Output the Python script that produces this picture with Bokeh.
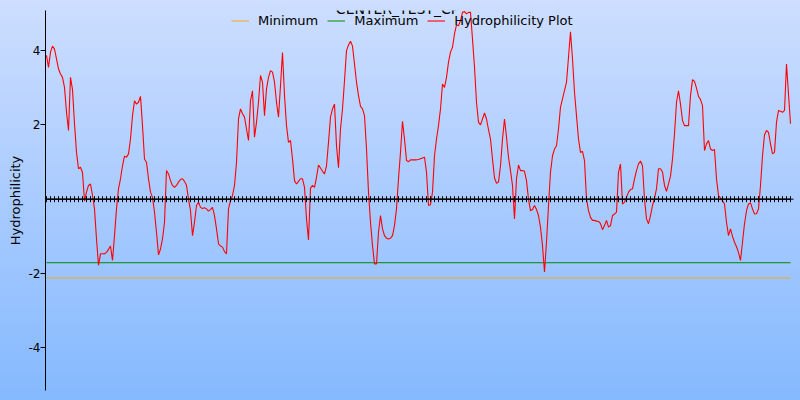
from bokeh.plotting import figure
from bokeh.models import Range1d, FixedTicker, Legend, LegendItem, Label
from bokeh.embed import file_html
from bokeh.resources import INLINE

title_text = "CENTER_TEST_CP"
y_label = "Hydrophilicity"
y_ticks = [-4, -2, 2, 4]
minimum_level = -2.12
maximum_level = -1.71
baseline_level = 0.0
series_labels = ["Minimum", "Maximum", "Hydrophilicity Plot"]
series_colors = ["#f5a623", "#008a00", "#ff0000"]

hydro = [
    3.87, 3.55, 3.96, 4.12, 4.04, 3.78, 3.51, 3.37, 3.28, 3.01,
    2.34, 1.85, 3.28, 2.95, 2.03, 1.26, 0.82, 0.86, 0.72, -0.05,
    0.19, 0.37, 0.41, 0.1, -0.26, -1.07, -1.78, -1.47, -1.47, -1.47,
    -1.43, -1.35, -1.26, -1.65, -0.98, -0.26, 0.28, 0.55, 0.9, 1.16,
    1.13, 1.22, 1.62, 2.25, 2.65, 2.56, 2.61, 2.77, 1.98, 1.08,
    0.99, 0.55, 0.19,
    0.05, -0.35, -0.89, -1.5, -1.34, -1.07, -0.62, 0.77, 0.68, 0.5,
    0.37, 0.32, 0.37, 0.46, 0.53, 0.55, 0.48, 0.37, 0.0, -0.31,
    -0.98, -0.62, -0.17, -0.08, -0.22, -0.25, -0.23, -0.26, -0.32, -0.28,
    -0.22, -0.44, -0.8, -1.2, -1.26, -1.29, -1.41, -1.47, -0.26, -0.04,
    0.1, 0.37, 0.99, 2.16, 2.43, 2.3, 2.21, 1.89, 1.58, 2.65,
    2.92, 1.67, 2.07,
    2.61, 3.33, 3.15, 2.25, 2.97, 3.28, 3.46, 3.42, 3.15, 2.61,
    2.21, 3.06, 3.95, 2.79, 1.98, 1.53, 1.58, 1.08, 0.5, 0.41,
    0.48, 0.55, 0.55, 0.32, -0.53, -1.1, 0.3, 0.37, 0.32, 0.59,
    0.92, 0.84, 0.75, 0.68, 0.9, 1.53, 2.21, 2.43, 2.56, 1.44,
    0.85, 1.89, 2.43, 3.19, 4.0, 4.15, 4.25, 4.12, 3.64, 3.15,
    2.79, 2.5, 2.43,
    2.25, 1.35, 0.19, -0.62, -1.25, -1.74, -1.74, -0.89, -0.44, -0.8,
    -0.98, -1.05, -1.07, -1.05, -0.98, -0.71, -0.26, 0.55, 1.26, 2.1,
    1.62, 1.04, 1.01, 1.06, 1.06, 1.06, 1.06, 1.07, 1.09, 1.11,
    1.13, 0.73, -0.17, -0.15, 0.19, 1.17, 1.62, 1.98, 2.43, 3.1,
    3.01, 3.28, 3.69, 3.96, 4.09, 4.45, 4.69, 4.67, 4.81, 5.03,
    5.05, 4.99, 5.03,
    5.03, 4.31, 3.55, 2.61, 2.07, 2.0, 2.16, 2.32, 2.16, 1.87,
    1.62, 1.08, 0.57, 0.43, 0.46, 0.9, 1.62, 2.16, 1.67, 1.13,
    0.77, 0.37, -0.53, 0.55, 0.92, 0.77, 0.77, 0.75, 0.5, 0.0,
    -0.31, -0.28, -0.17, -0.28, -0.44, -0.76, -1.25, -1.96, -1.16, -0.17,
    0.73, 1.17, 1.35, 1.44, 1.89, 2.48, 2.7, 2.92, 3.15, 3.82,
    4.51, 3.78, 2.88,
    2.25, 1.62, 1.26, 1.29, 1.04, 0.0, -0.31, -0.49, -0.57, -0.57,
    -0.59, -0.6, -0.66, -0.82, -0.71, -0.57, -0.75, -0.71, -0.44, -0.4,
    -0.35, 0.73, 0.95, -0.13, -0.08, 0.05, 0.19, 0.26, 0.28, 0.55,
    0.77, 0.95, 1.03, 0.9, 0.0, -0.53, -0.66, -0.44, -0.17, 0.03,
    0.28, 0.82, 0.82, 0.73, 0.37, 0.21, 0.41, 0.62, 1.08, 1.76,
    2.61, 2.92, 2.56,
    2.12, 1.98, 1.98, 1.98, 2.79, 3.22, 3.17, 2.99, 2.77, 2.68,
    2.52, 1.31, 1.49, 1.58, 1.35, 1.31, 1.34, 0.55, 0.1, 0.03,
    -0.04, -0.13, -0.62, -0.98, -0.8, -1.0, -1.16, -1.28, -1.43, -1.65,
    -1.16, -0.66, -0.31, -0.13, -0.1, -0.26, -0.4, -0.39, -0.26, 0.37,
    1.17, 1.73, 1.85, 1.8, 1.49, 1.22, 1.26, 2.07, 2.39, 2.37,
    2.34, 2.39, 3.64, 2.83, 2.03,
]
residues = list(range(1, len(hydro) + 1))
marked_residues = residues[::2]

FONT = "DejaVu Sans"

p = figure(width=800, height=400, output_backend="svg", toolbar_location=None,
           tools="", x_range=Range1d(0.5, 378), y_range=Range1d(-5.15, 5.08),
           x_axis_location=None)
p.min_border = 0
p.min_border_left = 45
p.min_border_right = 0
p.min_border_top = 10
p.min_border_bottom = 10
p.background_fill_alpha = 0
p.border_fill_alpha = 0
p.outline_line_color = None
p.grid.grid_line_color = None
p.styles = {"background": "linear-gradient(to bottom, #cddeff 0%, #a9cbff 50%, #84b9fe 100%)"}

ax = p.yaxis[0]
ax.ticker = FixedTicker(ticks=y_ticks)
ax.major_label_overrides = {t: str(t) for t in y_ticks}
ax.minor_tick_line_color = None
ax.major_tick_in = 0
ax.major_tick_out = 5
ax.major_label_standoff = 0
ax.axis_label = y_label
ax.axis_label_standoff = 3
ax.axis_label_text_font = FONT
ax.axis_label_text_font_size = "13px"
ax.axis_label_text_font_style = "normal"
ax.axis_label_text_color = "black"
ax.major_label_text_font = FONT
ax.major_label_text_font_size = "12px"
ax.major_label_text_color = "black"
ax.axis_line_color = "black"
ax.major_tick_line_color = "black"

ends = [residues[0], residues[-1]]
r_min = p.line(ends, [minimum_level, minimum_level], line_color=series_colors[0], line_width=1)
r_max = p.line(ends, [maximum_level, maximum_level], line_color=series_colors[1], line_width=1)
r_hyd = p.line(residues, hydro, line_color=series_colors[2], line_width=1.1)
p.line(ends, [baseline_level, baseline_level], line_color="black", line_width=1)
p.scatter(marked_residues, [baseline_level] * len(marked_residues), marker="cross",
          size=6, line_color="black", line_width=1)

legend = Legend(items=[LegendItem(label=series_labels[0], renderers=[r_min]),
                       LegendItem(label=series_labels[1], renderers=[r_max]),
                       LegendItem(label=series_labels[2], renderers=[r_hyd])],
                location=(186, 362), orientation="horizontal",
                glyph_width=18, glyph_height=15, label_standoff=9, spacing=9,
                padding=0, margin=0, background_fill_alpha=0, border_line_alpha=0,
                label_text_font=FONT, label_text_font_size="13px",
                label_text_color="black")
p.add_layout(legend)

p.add_layout(Label(x=352, y=390, x_units="screen", y_units="screen", text=title_text,
                   text_align="center", text_baseline="top", text_font=FONT,
                   text_font_size="14px", text_color="black"))

open("out.html", "w").write(file_html(p, INLINE))
